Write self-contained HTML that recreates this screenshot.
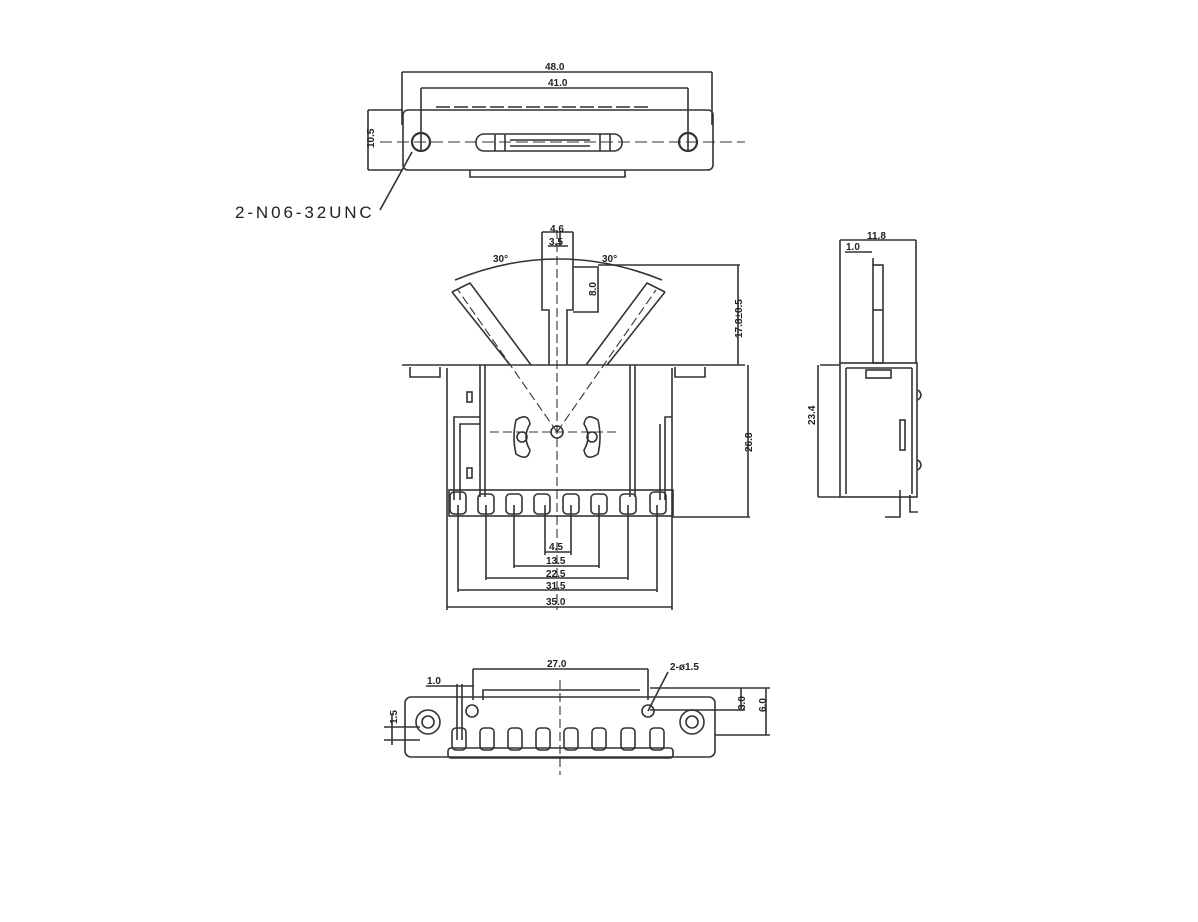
<!DOCTYPE html>
<html><head><meta charset="utf-8"><style>
html,body{margin:0;padding:0;background:#fff;}
svg{display:block}
text{font-family:"Liberation Sans",sans-serif;fill:#222;}
</style></head><body>
<svg width="1198" height="922" viewBox="0 0 1198 922" xmlns="http://www.w3.org/2000/svg">
<g fill="none" stroke="#333" stroke-width="1.6">
<!-- TOP VIEW -->
<path d="M402 72H712M402 72V125M712 72V125"/>
<path d="M421 88H688M421 88V150M688 88V150"/>
<rect x="403" y="110" width="310" height="60" rx="5"/>
<path d="M368 110H403M368 170H403M368 110V170"/>
<path d="M436 107H650" stroke-dasharray="14 4"/>
<circle cx="421" cy="142" r="9" stroke-width="2.2"/>
<circle cx="688" cy="142" r="9" stroke-width="2.2"/>
<rect x="476" y="134" width="146" height="17" rx="8"/>
<path d="M495 134V151M505 134V151M610 134V151M600 134V151M510 140H590M510 146H590"/>
<path d="M380 142H745" stroke-dasharray="12 5" stroke-width="1.1"/>
<path d="M470 170V177H625V170"/>
<path d="M412 152L380 210"/>
<!-- MIDDLE VIEW -->
<path d="M542 232H573M542 232V310H549V365M573 232V310H567V365"/>
<path d="M548 246H568M560 232V246"/>
<path d="M455 280Q558 238 662 280"/>
<path d="M452 292L470 283L531 365M452 292L510 365"/>
<path d="M665 292L647 283L586 365M665 292L607 365"/>
<path d="M573 267H598V312H573"/>
<path d="M598 265H740M738 265V365"/>
<path d="M402 365H745"/>
<path d="M410 367V377H440V367M675 367V377H705V367"/>
<path d="M447 368V500M672 368V500M480 365V497M635 365V497M485 365V497M630 365V497"/>
<path d="M672 517H750M748 365V517"/>
<path d="M454 500V417H480M460 500V424H480M672 417H665V500M660 424V500"/>
<rect x="467" y="392" width="5" height="10"/><rect x="467" y="468" width="5" height="10"/>
<circle cx="557" cy="432" r="6"/>
<path d="M516 420Q528 412 530 424Q522 437 530 450Q528 462 516 454Q512 437 516 420Z"/>
<path d="M598 420Q586 412 584 424Q592 437 584 450Q586 462 598 454Q602 437 598 420Z"/>
<circle cx="522" cy="437" r="5"/><circle cx="592" cy="437" r="5"/>
<path d="M557 432L458 290M557 432L656 290M490 432H620M557 230V610" stroke-dasharray="9 4" stroke-width="1.1"/>
<rect x="449" y="490" width="224" height="26"/>
<rect x="450" y="492" width="16" height="22" rx="4"/><rect x="478" y="494" width="16" height="20" rx="4"/><rect x="506" y="494" width="16" height="20" rx="4"/><rect x="534" y="494" width="16" height="20" rx="4"/><rect x="563" y="494" width="16" height="20" rx="4"/><rect x="591" y="494" width="16" height="20" rx="4"/><rect x="620" y="494" width="16" height="20" rx="4"/><rect x="650" y="492" width="16" height="22" rx="4"/>
<path d="M545 505V555M571 505V555M545 552H571"/>
<path d="M514 505V568M599 505V568M514 566H599"/>
<path d="M486 505V580M628 505V580M486 578H628"/>
<path d="M458 505V592M657 505V592M458 590H657"/>
<path d="M447 500V610M672 500V610M447 607H672"/>
<!-- SIDE VIEW -->
<path d="M840 240H916M840 240V363M916 240V363"/>
<path d="M845 252H872M873 258V265"/>
<rect x="873" y="265" width="10" height="98"/>
<path d="M873 310H883"/>
<rect x="840" y="363" width="77" height="134"/>
<path d="M846 368V494M846 368H912M912 368V494"/>
<rect x="866" y="370" width="25" height="8"/>
<path d="M820 365H840M818 365V497M818 497H840"/>
<rect x="900" y="420" width="5" height="30"/>
<path d="M918 390Q924 395 918 400M918 460Q924 465 918 470"/>
<path d="M900 490V517H885M910 495V512H918"/>
<!-- BOTTOM VIEW -->
<rect x="405" y="697" width="310" height="60" rx="6"/>
<circle cx="428" cy="722" r="12"/><circle cx="428" cy="722" r="6"/>
<circle cx="692" cy="722" r="12"/><circle cx="692" cy="722" r="6"/>
<path d="M473 669H648M473 669V700M648 669V700"/>
<path d="M426 686H474M457 684V740M462 684V740"/>
<path d="M483 700V690H640"/>
<path d="M650 688H770M650 710H745M766 688V735M741 688V710M715 735H770"/>
<path d="M384 727H420M384 740H420M392 715V745"/>
<circle cx="472" cy="711" r="6"/><circle cx="648" cy="711" r="6"/>
<path d="M648 711L668 672"/>
<path d="M560 680V775" stroke-dasharray="9 4" stroke-width="1.1"/>
<rect x="452" y="728" width="14" height="22" rx="4"/><rect x="480" y="728" width="14" height="22" rx="4"/><rect x="508" y="728" width="14" height="22" rx="4"/><rect x="536" y="728" width="14" height="22" rx="4"/><rect x="564" y="728" width="14" height="22" rx="4"/><rect x="592" y="728" width="14" height="22" rx="4"/><rect x="621" y="728" width="14" height="22" rx="4"/><rect x="650" y="728" width="14" height="22" rx="4"/>
<rect x="448" y="748" width="225" height="10" rx="3"/>
</g>
<g font-size="10" font-weight="600">
<text x="545" y="70">48.0</text>
<text x="548" y="86">41.0</text>
<text x="0" y="0" transform="translate(374,148) rotate(-90)">10.5</text>
<text x="235" y="218" font-size="17" font-weight="400" letter-spacing="2.9">2-N06-32UNC</text>
<text x="550" y="232">4.6</text>
<text x="549" y="245">3.5</text>
<text x="493" y="262">30°</text>
<text x="602" y="262">30°</text>
<text x="0" y="0" transform="translate(596,296) rotate(-90)">8.0</text>
<text x="0" y="0" transform="translate(742,338) rotate(-90)">17.8±0.5</text>
<text x="0" y="0" transform="translate(752,452) rotate(-90)">26.8</text>
<text x="549" y="550">4.5</text>
<text x="546" y="564">13.5</text>
<text x="546" y="577">22.5</text>
<text x="546" y="589">31.5</text>
<text x="546" y="605">35.0</text>
<text x="867" y="239">11.8</text>
<text x="846" y="250">1.0</text>
<text x="0" y="0" transform="translate(815,425) rotate(-90)">23.4</text>
<text x="547" y="667">27.0</text>
<text x="670" y="670">2-ø1.5</text>
<text x="427" y="684">1.0</text>
<text x="0" y="0" transform="translate(397,724) rotate(-90)">1.5</text>
<text x="0" y="0" transform="translate(745,710) rotate(-90)">3.0</text>
<text x="0" y="0" transform="translate(766,712) rotate(-90)">6.0</text>
</g>
</svg>
</body></html>
